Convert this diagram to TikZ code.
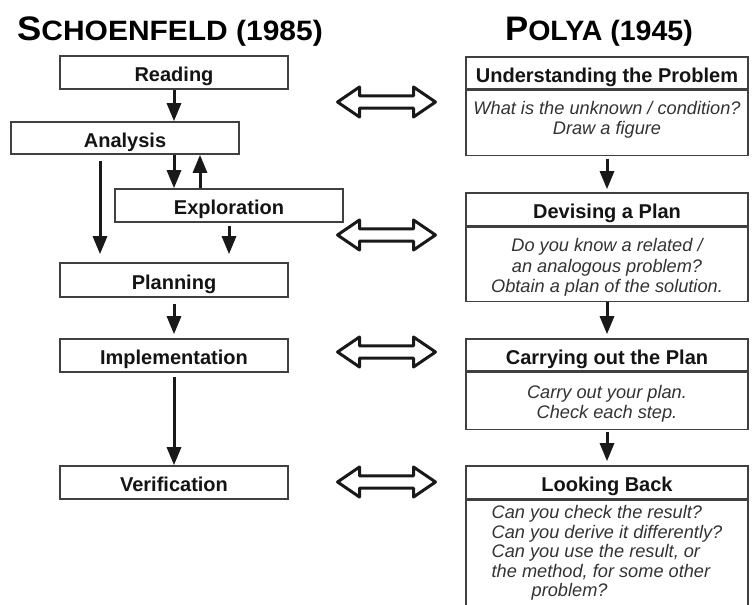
\documentclass[tikz,border=0pt]{standalone}
\usepackage{fontspec}
\setmainfont{Liberation Sans}
\usetikzlibrary{arrows.meta}
\begin{document}
\begin{tikzpicture}[x=1pt,y=-1pt,
  lbox/.style={draw=black!75, line width=1.6pt, minimum width=228pt, minimum height=33pt,
    inner sep=0pt, text height=18.3pt, text depth=0pt, text=black!92,
    font=\fontsize{20}{24}\selectfont\bfseries},
  hbox/.style={lbox, minimum width=282pt},
  bbox/.style={draw=black!75, line width=1.6pt, minimum width=282pt, align=center,
    text=black!80, font=\fontsize{18.2}{20.5}\selectfont\itshape},
  arr/.style={line width=3pt, black!90, -{Triangle[length=18pt,width=14pt]}},
  dblarrow/.pic={\draw[line width=3pt, line join=round, fill=white, draw=black!90]
    (-49,0) -- (-27,-15) -- (-27,-6.2) -- (27,-6.2) -- (27,-15) -- (49,0)
    -- (27,15) -- (27,6.2) -- (-27,6.2) -- (-27,15) -- cycle;}
]
\useasboundingbox (0,0) rectangle (755,605);
\fill[white] (0,0) rectangle (755,605);

% titles
\node[anchor=base, inner sep=0pt, font=\bfseries] (tschoen) at (170,40)
  {\scalebox{1.07}[1]{\fontsize{34}{34}\selectfont S\fontsize{28}{28}\selectfont CHOENFELD (1985)}};
\node[anchor=base, inner sep=0pt, font=\bfseries] (tpolya) at (599,40)
  {\scalebox{1.02}[1]{\fontsize{34}{34}\selectfont P\fontsize{28}{28}\selectfont OLYA (1945)}};

% Schoenfeld column
\node[lbox] (read) at (174,72.5) {Reading};
\node[lbox, minimum height=32pt] (anal) at (125,138) {Analysis};
\node[lbox] (expl) at (229,205.5) {Exploration};
\node[lbox, minimum height=34pt] (plan) at (174,280) {Planning};
\node[lbox] (impl) at (174,355.5) {Implementation};
\node[lbox] (veri) at (174,482.5) {Verification};

\coordinate (xu) at (200,0);
\coordinate (xl) at (100,0);

\draw[arr] (read.south) -- (anal.north -| read.south);
\draw[arr] (anal.south -| read.south) -- (expl.north -| read.south);
\draw[arr] (expl.north -| xu) -- (anal.south -| xu);
\draw[arr, shorten <=6pt, shorten >=8pt] (anal.south -| xl) -- (plan.north -| xl);
\draw[arr, shorten <=3pt, shorten >=8pt] (expl.south) -- (plan.north -| expl.south);
\draw[arr, shorten <=6pt, shorten >=4pt] (plan.south) -- (impl.north);
\draw[arr, shorten <=4pt] (impl.south) -- (veri.north);

% Polya column
\node[hbox, minimum height=32pt] (und) at (607,73) {Understanding the Problem};
\node[bbox, minimum height=65pt, anchor=north, text depth=10pt] (undb) at (und.south)
  {What is the unknown / condition?\\Draw a figure};
\node[hbox, minimum height=33pt] (dev) at (607,209.5) {Devising a Plan};
\node[bbox, minimum height=74pt, anchor=north, text height=60pt] (devb) at (dev.south)
  {Do you know a related /\\an analogous problem?\\Obtain a plan of the solution.};
\node[hbox, minimum height=32pt] (car) at (607,355) {Carrying out the Plan};
\node[bbox, minimum height=57pt, anchor=north, text height=39.5pt] (carb) at (car.south)
  {Carry out your plan.\\Check each step.};
\node[hbox, minimum height=33pt] (look) at (607,482.5) {Looking Back};
\node[bbox, minimum height=121pt, anchor=north, align=left, text depth=20pt,
  font=\fontsize{18.2}{19.5}\selectfont\itshape] (lookb) at (look.south)
  {Can you check the result?\\Can you derive it differently?\\Can you use the result, or\\the method, for some other\\\hspace*{40pt}problem?};

\draw[arr, shorten <=3pt, shorten >=3pt] (undb.south) -- (dev.north);
\draw[arr, shorten >=4pt] (devb.south) -- (car.north);
\draw[arr, shorten <=2pt, shorten >=4pt] (carb.south) -- (look.north);

% correspondence arrows
\pic at (386.5,102) {dblarrow};
\pic at (386.5,235) {dblarrow};
\pic at (386.5,352) {dblarrow};
\pic at (386.5,482) {dblarrow};
\end{tikzpicture}
\end{document}
